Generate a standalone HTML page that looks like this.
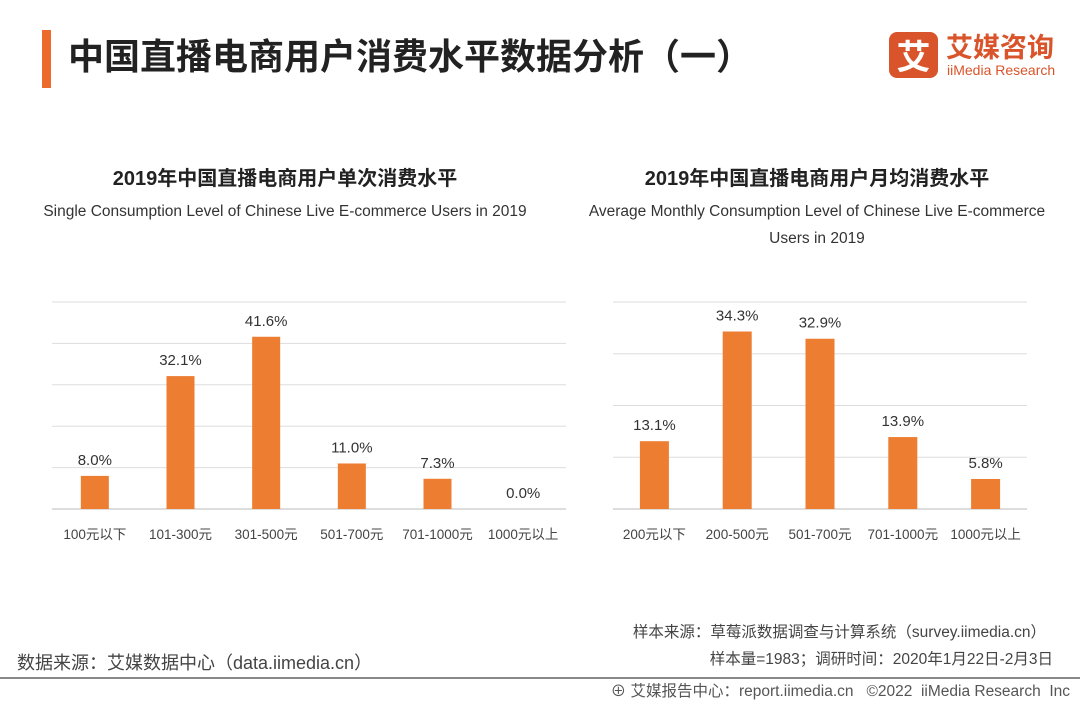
<!DOCTYPE html>
<html><head><meta charset="utf-8">
<style>
body{margin:0;width:1080px;height:702px;background:#fff;overflow:hidden;font-family:"Liberation Sans","Noto Sans CJK SC",sans-serif;position:relative}
.abs{position:absolute;white-space:nowrap}
</style></head><body>
<div class="abs" style="left:42px;top:30px;width:9px;height:58px;background:#ec6a2c"></div>
<div class="abs" style="left:68px;top:28px;font-size:36px;font-weight:bold;color:#222;font-family:'Noto Sans CJK SC',sans-serif">中国直播电商用户消费水平数据分析（一）</div>
<div class="abs" style="left:889px;top:32px;width:49px;height:46px;background:#d9542b;border-radius:8px;color:#fff;font-size:34px;line-height:46px;text-align:center;font-weight:bold;font-family:'Noto Sans CJK SC',sans-serif">艾</div>
<div class="abs" style="left:946px;top:29px;font-size:27px;color:#d9542b;font-weight:bold;font-family:'Noto Sans CJK SC',sans-serif;line-height:34px">艾媒咨询</div>
<div class="abs" style="left:947px;top:62px;font-size:14px;color:#d9542b">iiMedia Research</div>

<svg id="chart" class="abs" style="left:0;top:0" width="1080" height="702"></svg>

<div class="abs" style="left:17px;top:649px;font-size:18px;color:#444">数据来源：艾媒数据中心（data.iimedia.cn）</div>
<div class="abs" style="right:34px;top:620px;font-size:15.5px;color:#444">样本来源：草莓派数据调查与计算系统（survey.iimedia.cn）</div>
<div class="abs" style="right:27px;top:647px;font-size:15.5px;color:#444">样本量=1983；调研时间：2020年1月22日-2月3日</div>
<div class="abs" style="left:0;top:677px;width:1080px;height:2px;background:#888"></div>
<div class="abs" style="right:10px;top:679px;font-size:15.5px;color:#555">⊕ 艾媒报告中心：report.iimedia.cn &nbsp;&nbsp;©2022 &nbsp;iiMedia Research &nbsp;Inc</div>

<script>
const leftCats=["100元以下","101-300元","301-500元","501-700元","701-1000元","1000元以上"];
const leftVals=[8.0,32.1,41.6,11.0,7.3,0.0];
const leftTicks=[0,10,20,30,40,50];
const rightCats=["200元以下","200-500元","501-700元","701-1000元","1000元以上"];
const rightVals=[13.1,34.3,32.9,13.9,5.8];
const rightTicks=[0,10,20,30,40];

const NS="http://www.w3.org/2000/svg";
const svg=document.getElementById('chart');
function el(t,a,txt){const e=document.createElementNS(NS,t);for(const k in a)e.setAttribute(k,a[k]);if(txt!==undefined)e.textContent=txt;svg.appendChild(e);return e;}

function drawChart(cfg){
  const {x0,x1,yBase,yTop,cats,vals,ticks,bw,title,sub,prefix,cx}=cfg;
  const max=ticks[ticks.length-1];
  const y=v=>yBase-(v/max)*(yBase-yTop);
  const step=(x1-x0)/cats.length;
  const xc=i=>x0+step*(i+0.5);
  const t=el('text',{x:cx,y:cfg.titleY,'text-anchor':'middle','font-size':20,'font-weight':'bold',fill:'#222'},title);
  
  
  sub.forEach((s,k)=>{
    const st=el('text',{x:cx,y:cfg.titleY+31+k*27,'text-anchor':'middle','font-size':15.5,fill:'#333'},s);
    
    
  });
  ticks.forEach(tk=>{
    const g=el('line',{x1:x0,x2:x1,y1:y(tk),y2:y(tk),stroke:tk===0?'#bbb':'#ddd','stroke-width':1});
    
    
  });
  vals.forEach((v,i)=>{
    const r=el('rect',{x:xc(i)-bw/2,y:y(v),width:bw,height:yBase-y(v),fill:'#ed7d31'});
    
    
    const l=el('text',{x:xc(i),y:y(v)-11,'text-anchor':'middle','font-size':15,fill:'#333'},v.toFixed(1)+'%');
    
    
    const c=el('text',{x:xc(i),y:yBase+30,'text-anchor':'middle','font-size':13.5,fill:'#444'},cats[i]);
    
    
  });
}
drawChart({prefix:'left',cx:285,x0:52,x1:566,yBase:509,yTop:302,cats:leftCats,vals:leftVals,ticks:leftTicks,bw:28,titleY:185,
  title:'2019年中国直播电商用户单次消费水平',sub:['Single Consumption Level of Chinese Live E-commerce Users in 2019']});
drawChart({prefix:'right',cx:817,x0:613,x1:1027,yBase:509,yTop:302,cats:rightCats,vals:rightVals,ticks:rightTicks,bw:29,titleY:185,
  title:'2019年中国直播电商用户月均消费水平',sub:['Average Monthly Consumption Level of Chinese Live E-commerce','Users in 2019']});
</script>
</body></html>
